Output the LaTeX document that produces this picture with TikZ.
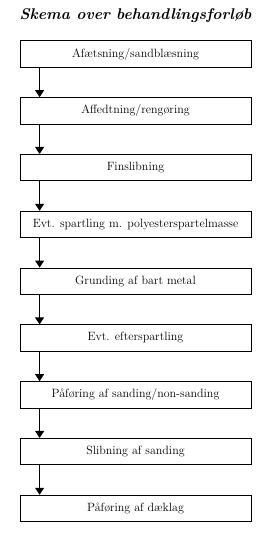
\documentclass[tikz,border=0pt]{standalone}
\usetikzlibrary{arrows.meta, positioning}

\begin{document}
\begin{tikzpicture}[
    x=1pt, y=1pt,
    node distance=29.5pt,
    stage/.style={rectangle, draw=black, line width=0.8pt, fill=white, minimum width=231pt, minimum height=26.5pt, inner sep=2pt, font=\fontsize{12}{14}\selectfont},
    title/.style={font=\fontsize{15.5}{18}\selectfont\bfseries\itshape},
    arrow/.style={-{Triangle[length=7pt, width=9pt]}, line width=0.9pt, draw=black}
  ]
  \useasboundingbox (0,0) rectangle (270,-535);
  \node[title] (heading) at (135.5,-16) {Skema over behandlingsforløb};
  \node[stage] (blast) at (135.5,-54) {Afætsning/sandblæsning};
  \node[stage, below=of blast] (degrease) {Affedtning/rengøring};
  \node[stage, below=of degrease] (sanding) {Finslibning};
  \node[stage, below=of sanding] (filler) {Evt. spartling m. polyesterspartelmasse};
  \node[stage, below=of filler] (primer) {Grunding af bart metal};
  \node[stage, below=of primer] (refill) {Evt. efterspartling};
  \node[stage, below=of refill] (surfacer) {Påføring af sanding/non-sanding};
  \node[stage, below=of surfacer] (grind) {Slibning af sanding};
  \node[stage, below=of grind] (topcoat) {Påføring af dæklag};

  \draw[arrow] ([xshift=20pt]blast.south west) -- ([xshift=20pt]degrease.north west);
  \draw[arrow] ([xshift=20pt]degrease.south west) -- ([xshift=20pt]sanding.north west);
  \draw[arrow] ([xshift=20pt]sanding.south west) -- ([xshift=20pt]filler.north west);
  \draw[arrow] ([xshift=20pt]filler.south west) -- ([xshift=20pt]primer.north west);
  \draw[arrow] ([xshift=20pt]primer.south west) -- ([xshift=20pt]refill.north west);
  \draw[arrow] ([xshift=20pt]refill.south west) -- ([xshift=20pt]surfacer.north west);
  \draw[arrow] ([xshift=20pt]surfacer.south west) -- ([xshift=20pt]grind.north west);
  \draw[arrow] ([xshift=20pt]grind.south west) -- ([xshift=20pt]topcoat.north west);
\end{tikzpicture}
\end{document}
